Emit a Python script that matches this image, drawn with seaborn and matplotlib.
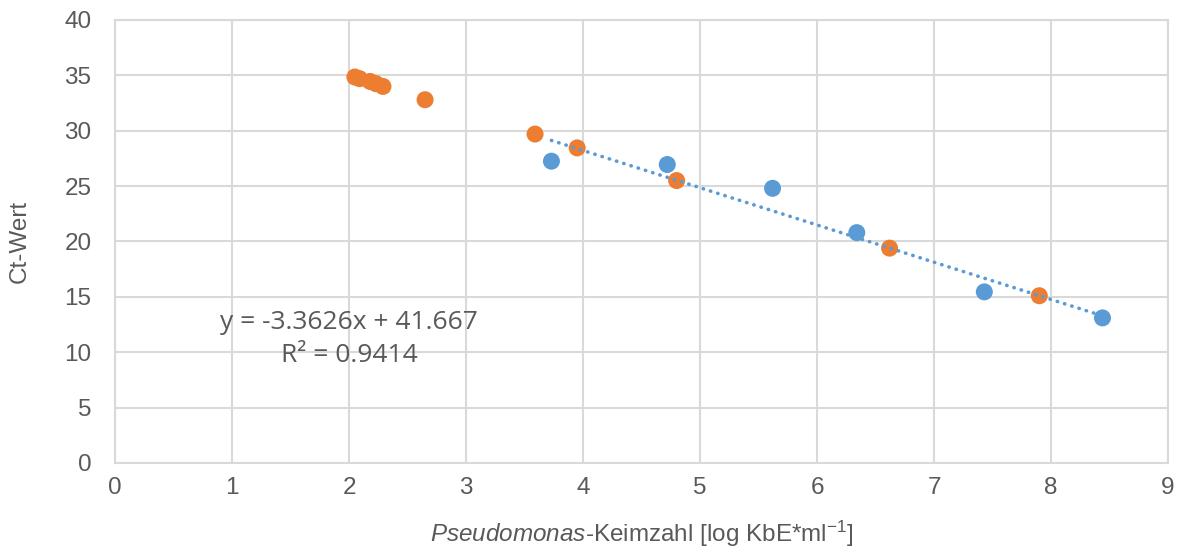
import matplotlib
matplotlib.use("Agg")
import matplotlib.pyplot as plt
import seaborn as sns
import numpy as np
import pandas as pd

# Data
orange_x = [2.05, 2.09, 2.18, 2.23, 2.29, 2.65, 3.59, 3.95, 4.80, 6.62, 7.90]
orange_y = [34.85, 34.7, 34.45, 34.25, 34.0, 32.8, 29.7, 28.45, 25.5, 19.4, 15.1]
blue_x = [3.73, 4.72, 5.62, 6.34, 7.43, 8.44]
blue_y = [27.25, 26.95, 24.8, 20.8, 15.45, 13.1]
slope = -3.3626
intercept = 41.667
r2 = 0.9414
x_ticks = list(range(0, 10))
y_ticks = list(range(0, 45, 5))

BLUE = "#5B9BD5"
ORANGE = "#ED7D31"
GRID = "#D9D9D9"
TXT = "#595959"

sns.set_theme(style="white")
plt.rcParams["font.family"] = ["Liberation Sans", "DejaVu Sans"]
plt.rcParams["mathtext.fontset"] = "custom"
plt.rcParams["mathtext.rm"] = "Liberation Sans"
plt.rcParams["mathtext.it"] = "Liberation Sans:italic"

df = pd.DataFrame({
    "x": blue_x + orange_x,
    "y": blue_y + orange_y,
    "s": ["blue"] * len(blue_x) + ["orange"] * len(orange_x),
})

fig = plt.figure(figsize=(11.81, 5.55), dpi=100)
ax = fig.add_axes([0.0974, 0.1658, 0.8916, 0.7982])

sns.scatterplot(data=df, x="x", y="y", hue="s", palette={"blue": BLUE, "orange": ORANGE},
                s=150, edgecolor="none", legend=False, ax=ax, zorder=3)

xs = np.array([min(blue_x), max(blue_x)])
ax.plot(xs, slope * xs + intercept, color=BLUE, lw=2.6, linestyle=(0, (0.1, 2.0)),
        dash_capstyle="round", zorder=4)

ax.set_xlim(0, 9)
ax.set_ylim(0, 40)
ax.set_xticks(x_ticks)
ax.set_yticks(y_ticks)
ax.grid(True, color=GRID, lw=1.5)
ax.set_axisbelow(True)
for sp in ax.spines.values():
    sp.set_color(GRID)
    sp.set_linewidth(1.5)
ax.tick_params(axis="y", length=0, labelsize=17.5, colors=TXT, pad=17)
ax.tick_params(axis="x", length=0, labelsize=17.5, colors=TXT, pad=10)

ax.set_xlabel(r"$\it{Pseudomonas}$-Keimzahl [log KbE*ml$^{-1}$]", fontsize=17.5, color=TXT, labelpad=14)
ax.set_ylabel("Ct-Wert", fontsize=17.5, color=TXT, labelpad=24)

ax.text(2.0, 12.7, f"y = {slope}x + {intercept}", ha="center", va="center",
        fontsize=19, color=TXT, family=["Open Sans", "DejaVu Sans"])
ax.text(2.0, 9.7, f"R² = {r2}", ha="center", va="center",
        fontsize=19, color=TXT, family=["Open Sans", "DejaVu Sans"])

fig.savefig("out.png", dpi=100)
